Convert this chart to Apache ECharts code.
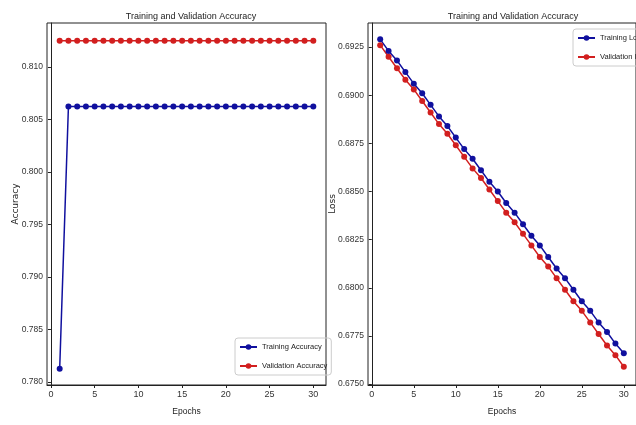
<!DOCTYPE html>
<html>
<head>
<meta charset="utf-8">
<script src="https://cdn.jsdelivr.net/npm/echarts@6/dist/echarts.min.js"></script>
<style>
	html, body { margin: 0; padding: 0; background: #fff; }
	#chart { width: 636px; height: 425px; }
</style>
</head>
<body>
<div id="chart"></div>
<script>
	var epochs = [1, 2, 3, 4, 5, 6, 7, 8, 9, 10, 11, 12, 13, 14, 15, 16, 17, 18, 19, 20, 21, 22, 23, 24, 25, 26, 27, 28, 29, 30];

	var trainAcc = [0.78125, 0.80625, 0.80625, 0.80625, 0.80625, 0.80625, 0.80625, 0.80625, 0.80625, 0.80625,
		0.80625, 0.80625, 0.80625, 0.80625, 0.80625, 0.80625, 0.80625, 0.80625, 0.80625, 0.80625,
		0.80625, 0.80625, 0.80625, 0.80625, 0.80625, 0.80625, 0.80625, 0.80625, 0.80625, 0.80625];
	var valAcc = [0.8125, 0.8125, 0.8125, 0.8125, 0.8125, 0.8125, 0.8125, 0.8125, 0.8125, 0.8125,
		0.8125, 0.8125, 0.8125, 0.8125, 0.8125, 0.8125, 0.8125, 0.8125, 0.8125, 0.8125,
		0.8125, 0.8125, 0.8125, 0.8125, 0.8125, 0.8125, 0.8125, 0.8125, 0.8125, 0.8125];

	var trainLoss = [0.6929, 0.6923, 0.6918, 0.6912, 0.6906, 0.6901, 0.6895, 0.6889, 0.6884, 0.6878,
		0.6872, 0.6867, 0.6861, 0.6855, 0.6850, 0.6844, 0.6839, 0.6833, 0.6827, 0.6822,
		0.6816, 0.6810, 0.6805, 0.6799, 0.6793, 0.6788, 0.6782, 0.6777, 0.6771, 0.6766];
	var valLoss = [0.6926, 0.6920, 0.6914, 0.6908, 0.6903, 0.6897, 0.6891, 0.6885, 0.6880, 0.6874,
		0.6868, 0.6862, 0.6857, 0.6851, 0.6845, 0.6839, 0.6834, 0.6828, 0.6822, 0.6816,
		0.6811, 0.6805, 0.6799, 0.6793, 0.6788, 0.6782, 0.6776, 0.6770, 0.6765, 0.6759];

	var xTicks = [0, 5, 10, 15, 20, 25, 30];
	var accTicks = [0.780, 0.785, 0.790, 0.795, 0.800, 0.805, 0.810];
	var lossTicks = [0.6750, 0.6775, 0.6800, 0.6825, 0.6850, 0.6875, 0.6900, 0.6925];

	var FONT = 'Liberation Sans';
	var BLUE = '#10109e';
	var RED = '#d21f1f';

	function pairs(ys) {
		return epochs.map(function(x, i) { return [x, ys[i]]; });
	}

	function xAxisFor(gridIndex) {
		return {
			type: 'value',
			gridIndex: gridIndex,
			min: -0.45,
			max: 31.45,
			name: 'Epochs',
			nameLocation: 'middle',
			nameGap: 22,
			nameMoveOverlap: false,
			nameTextStyle: { fontFamily: FONT, fontSize: 8.5, color: '#222' },
			axisLine: { show: true, lineStyle: { color: '#222', width: 1 } },
			axisTick: { show: true, length: 3, customValues: xTicks, lineStyle: { color: '#222' } },
			axisLabel: { customValues: xTicks, fontFamily: FONT, fontSize: 9, color: '#333', margin: 5 },
			splitLine: { show: false }
		};
	}

	function yAxisFor(gridIndex, name, min, max, ticks, digits, gap) {
		return {
			type: 'value',
			gridIndex: gridIndex,
			min: min,
			max: max,
			name: name,
			nameLocation: 'middle',
			nameGap: gap,
			nameMoveOverlap: false,
			nameTextStyle: { fontFamily: 'DejaVu Sans', fontSize: 9, color: '#222' },
			axisLine: { show: true, lineStyle: { color: '#222', width: 1 } },
			axisTick: { show: true, length: 3, customValues: ticks, lineStyle: { color: '#222' } },
			axisLabel: {
				customValues: ticks,
				fontFamily: FONT,
				fontSize: 8.5,
				color: '#333',
				margin: 4,
				formatter: function(v) { return v.toFixed(digits); }
			},
			splitLine: { show: false }
		};
	}

	function lineSeries(name, color, xi, data) {
		return {
			name: name,
			type: 'line',
			xAxisIndex: xi,
			yAxisIndex: xi,
			data: pairs(data),
			symbol: 'circle',
			symbolSize: 6,
			lineStyle: { color: color, width: 1.5 },
			itemStyle: { color: color },
			animation: false
		};
	}

	function legendFor(names, left, top) {
		return {
			data: names,
			orient: 'vertical',
			left: left,
			top: top,
			itemWidth: 17,
			itemHeight: 7,
			itemGap: 11,
			padding: [5, 4, 5, 4],
			borderColor: '#ccc',
			borderWidth: 1,
			borderRadius: 3,
			textStyle: { fontFamily: FONT, fontSize: 7.5, color: '#222' }
		};
	}

	var chart = echarts.init(document.getElementById('chart'));

	chart.setOption({
		backgroundColor: '#fff',
		animation: false,
		title: [
			{ text: 'Training and Validation Accuracy', left: 186, top: 7, textAlign: 'center',
				textStyle: { fontFamily: FONT, fontSize: 9, fontWeight: 'normal', color: '#222' } },
			{ text: 'Training and Validation Accuracy', left: 508, top: 7, textAlign: 'center',
				textStyle: { fontFamily: FONT, fontSize: 9, fontWeight: 'normal', color: '#222' } }
		],
		legend: [
			legendFor(['Training Accuracy', 'Validation Accuracy'], 235, 338),
			legendFor(['Training Loss', 'Validation loss'], 573, 29)
		],
		grid: [
			{ left: 47, top: 23, width: 279, height: 362, show: true, borderColor: '#222', borderWidth: 1 },
			{ left: 368, top: 23, width: 278, height: 362, show: true, borderColor: '#222', borderWidth: 1 }
		],
		xAxis: [xAxisFor(0), xAxisFor(1)],
		yAxis: [
			yAxisFor(0, 'Accuracy', 0.77971, 0.8142, accTicks, 3, 27),
			yAxisFor(1, 'Loss', 0.67495, 0.69375, lossTicks, 4, 31)
		],
		series: [
			lineSeries('Training Accuracy', BLUE, 0, trainAcc),
			lineSeries('Validation Accuracy', RED, 0, valAcc),
			lineSeries('Training Loss', BLUE, 1, trainLoss),
			lineSeries('Validation loss', RED, 1, valLoss)
		]
	});
</script>
</body>
</html>
